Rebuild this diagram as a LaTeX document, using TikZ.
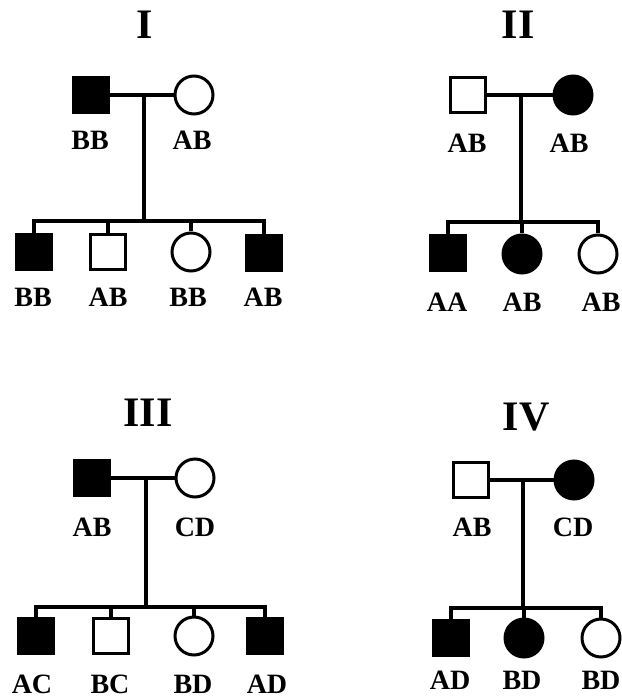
\documentclass[tikz,border=0pt]{standalone}
\usepackage{fontspec}
\setmainfont{Liberation Serif}
\begin{document}
\begin{tikzpicture}[x=1pt,y=-1pt,
  sq/.style={rectangle,draw,line width=3pt,minimum size=35pt,inner sep=0pt},
  sqf/.style={sq,fill=black},
  ci/.style={circle,draw,line width=3pt,minimum size=38pt,inner sep=0pt},
  cif/.style={ci,fill=black},
  lab/.style={font=\bfseries\fontsize{28}{28}\selectfont,inner sep=0pt},
  ttl/.style={font=\bfseries\fontsize{42}{42}\selectfont,inner sep=0pt},
  ln/.style={line width=3.5pt}]
\useasboundingbox[fill=white] (0,0) rectangle (621,700);

% ---------- Panel I ----------
\node[ttl] (t1) at (145,25) {I};
\node[sqf] (f1) at (91,95) {};
\node[ci]  (m1) at (194,95) {};
\coordinate (c1) at (144,95);
\coordinate (s1) at (144,221);
\node[sqf] (k11) at (34,252) {};
\node[sq]  (k12) at (108,252) {};
\node[ci]  (k13) at (191,252) {};
\node[sqf] (k14) at (264,253) {};
\draw[ln] (f1.east) -- (m1.west);
\draw[ln] (c1) -- (s1);
\draw[ln] (k11.north) -- (k11.north |- s1) -- (k14.north |- s1) -- (k14.north);
\draw[ln] (k12.north) -- (k12.north |- s1);
\draw[ln] (k13.north) -- (k13.north |- s1);
\node[lab] (l11) at (90,140) {BB};
\node[lab] (l12) at (192,140) {AB};
\node[lab] (l13) at (33,297) {BB};
\node[lab] (l14) at (108,297) {AB};
\node[lab] (l15) at (188,297) {BB};
\node[lab] (l16) at (263,297) {AB};

% ---------- Panel II ----------
\node[ttl] (t2) at (518,25) {II};
\node[sq]  (f2) at (468,95) {};
\node[cif] (m2) at (573,95) {};
\coordinate (c2) at (521,95);
\coordinate (s2) at (521,222);
\node[sqf] (k21) at (448,253) {};
\node[cif] (k22) at (522,254) {};
\node[ci]  (k23) at (598,254) {};
\draw[ln] (f2.east) -- (m2.west);
\draw[ln] (c2) -- (s2);
\draw[ln] (k21.north) -- (k21.north |- s2) -- (k23.north |- s2) -- (k23.north);
\draw[ln] (k22.north) -- (k22.north |- s2);
\node[lab] (l21) at (467,143) {AB};
\node[lab] (l22) at (569,143) {AB};
\node[lab] (l23) at (447,302) {AA};
\node[lab] (l24) at (522,302) {AB};
\node[lab] (l25) at (601,302) {AB};

% ---------- Panel III ----------
\node[ttl] (t3) at (148,413) {III};
\node[sqf] (f3) at (92,478) {};
\node[ci]  (m3) at (195,478) {};
\coordinate (c3) at (146,478);
\coordinate (s3) at (146,607);
\node[sqf] (k31) at (36,636) {};
\node[sq]  (k32) at (111,636) {};
\node[ci]  (k33) at (194,636) {};
\node[sqf] (k34) at (265,636) {};
\draw[ln] (f3.east) -- (m3.west);
\draw[ln] (c3) -- (s3);
\draw[ln] (k31.north) -- (k31.north |- s3) -- (k34.north |- s3) -- (k34.north);
\draw[ln] (k32.north) -- (k32.north |- s3);
\draw[ln] (k33.north) -- (k33.north |- s3);
\node[lab] (l31) at (92,527) {AB};
\node[lab] (l32) at (195,527) {CD};
\node[lab] (l33) at (32,684) {AC};
\node[lab] (l34) at (110,684) {BC};
\node[lab] (l35) at (193,684) {BD};
\node[lab] (l36) at (267,684) {AD};

% ---------- Panel IV ----------
\node[ttl] (t4) at (526,417) {IV};
\node[sq]  (f4) at (471,480) {};
\node[cif] (m4) at (574,480) {};
\coordinate (c4) at (523,480);
\coordinate (s4) at (523,608);
\node[sqf] (k41) at (451,638) {};
\node[cif] (k42) at (524,638) {};
\node[ci]  (k43) at (601,638) {};
\draw[ln] (f4.east) -- (m4.west);
\draw[ln] (c4) -- (s4);
\draw[ln] (k41.north) -- (k41.north |- s4) -- (k43.north |- s4) -- (k43.north);
\draw[ln] (k42.north) -- (k42.north |- s4);
\node[lab] (l41) at (472,527) {AB};
\node[lab] (l42) at (573,527) {CD};
\node[lab] (l43) at (450,680) {AD};
\node[lab] (l44) at (522,680) {BD};
\node[lab] (l45) at (601,680) {BD};
\end{tikzpicture}
\end{document}
